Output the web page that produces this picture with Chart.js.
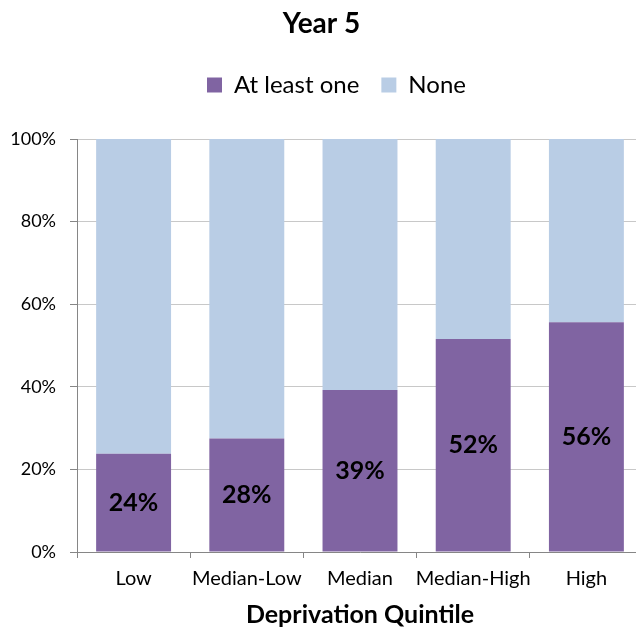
<!DOCTYPE html>
<html><head><meta charset="utf-8">
<script src="https://cdn.jsdelivr.net/npm/chart.js@4"></script>
<style>html,body{margin:0;padding:0;overflow:hidden;background:#fff;width:636px;height:630px}</style>
</head><body>
<canvas id="c" width="661" height="630"></canvas>
<script>
const categories = ['Low', 'Median-Low', 'Median', 'Median-High', 'High'];
const atLeastOne = [23.8, 27.5, 39.2, 51.6, 55.6];
const none = [76.2, 72.5, 60.8, 48.4, 44.4];
const valueLabels = ['24%', '28%', '39%', '52%', '56%'];
const yTicks = [0, 20, 40, 60, 80, 100];

const FONT = 'Lato, "DejaVu Sans", sans-serif';

const legendSizer = {
  id: 'legendSizer',
  beforeInit(chart) {
    const lg = chart.legend;
    if (!lg) return;
    const origFit = lg.fit;
    lg.fit = function () { origFit.call(this); this.height = 88; };
    const origDraw = lg.draw;
    lg.draw = function () {
      const ctx = this.ctx;
      ctx.save();
      ctx.translate(15, 0);
      origDraw.call(this);
      ctx.restore();
    };
  }
};

const barLabels = {
  id: 'barLabels',
  afterDatasetsDraw(chart) {
    const ctx = chart.ctx;
    const meta = chart.getDatasetMeta(0);
    ctx.save();
    ctx.font = 'bold 25px ' + FONT;
    ctx.fillStyle = '#000';
    ctx.textAlign = 'center';
    ctx.textBaseline = 'middle';
    meta.data.forEach((bar, i) => {
      ctx.fillText(valueLabels[i], bar.x, (bar.y + bar.base) / 2);
    });
    ctx.restore();
  }
};

new Chart(document.getElementById('c'), {
  type: 'bar',
  data: {
    labels: categories,
    datasets: [
      { label: 'At least one', data: atLeastOne, backgroundColor: '#8064A2', categoryPercentage: 1, barPercentage: 0.662 },
      { label: 'None', data: none, backgroundColor: '#B9CDE5', categoryPercentage: 1, barPercentage: 0.662 }
    ]
  },
  options: {
    responsive: false,
    animation: false,
    devicePixelRatio: 1,
    layout: { padding: { left: 0, right: 18, top: 0, bottom: 0 } },
    plugins: {
      title: {
        display: true, text: 'Year 5', color: '#000',
        font: { family: FONT, size: 28, weight: 'bold' },
        padding: { top: 7, bottom: 10.4 }
      },
      legend: {
        display: true, position: 'top',
        labels: {
          color: '#000', boxWidth: 15, boxHeight: 15, padding: 22,
          font: { family: FONT, size: 24 }
        }
      },
      tooltip: { enabled: false }
    },
    scales: {
      x: {
        stacked: true,
        border: { color: '#868686', width: 1 },
        grid: { drawOnChartArea: false, drawTicks: true, tickLength: 6, tickColor: '#868686', offset: true },
        ticks: { color: '#000', padding: 9, autoSkip: false, font: { family: FONT, size: 20 }, maxRotation: 0 },
        title: {
          display: true, text: 'Deprivation Quintile', color: '#000',
          font: { family: FONT, size: 25, weight: 'bold' },
          padding: { top: 0, bottom: 0 }
        },
        afterFit(scale) { scale.height = 78; }
      },
      y: {
        stacked: true, min: 0, max: 100,
        border: { color: '#868686', width: 1 },
        grid: { color: '#c8c8c8', tickColor: '#868686', tickLength: 7 },
        afterBuildTicks(scale) { scale.ticks = yTicks.map(v => ({ value: v })); },
        ticks: { color: '#000', padding: 14, font: { family: FONT, size: 18 }, callback: v => v + '%' },
        afterFit(scale) { scale.width = 77; }
      }
    }
  },
  plugins: [legendSizer, barLabels]
});
</script>
</body></html>
